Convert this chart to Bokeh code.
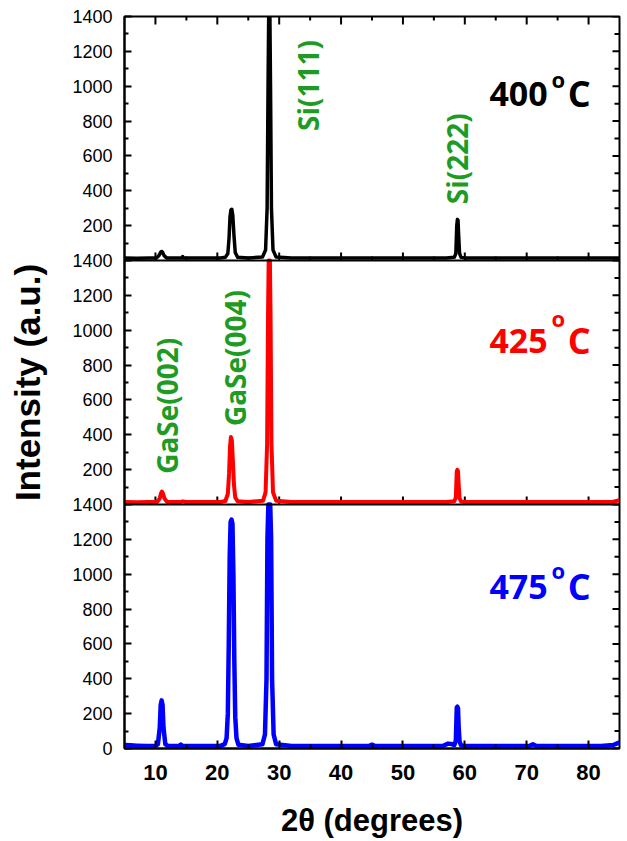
import numpy as np
from bokeh.plotting import figure
from bokeh.models import Range1d, LinearAxis, FixedTicker, Span, Label
from bokeh.embed import file_html
from bokeh.resources import INLINE

# ---------------- data ----------------
panel_max = 1400
series_names = ["475", "425", "400"]          # bottom -> top
series_colors = ["#0000ff", "#ff0000", "#000000"]
series_widths = [4.5, 4.0, 3.5]

pts_400 = [(5, 14), (7, 13), (9, 14), (10.2, 15), (10.6, 30), (10.85, 48), (11.0, 52), (11.15, 48),
           (11.4, 28), (11.8, 15), (13.5, 14), (14.3, 15), (14.4, 22), (14.5, 15), (15.5, 14), (18, 14),
           (20.5, 15), (21.3, 18), (21.7, 40), (21.9, 130), (22.05, 250), (22.2, 290), (22.35, 294),
           (22.5, 260), (22.7, 140), (22.9, 45), (23.3, 18), (25, 15), (27.3, 20), (27.8, 60),
           (28.05, 300), (28.2, 1000), (28.3, 1600), (28.4, 1800), (28.5, 1600), (28.6, 1000),
           (28.75, 300), (29.0, 60), (29.5, 20), (32, 15), (36, 14), (40, 15), (45, 14), (50, 14),
           (54, 14), (57, 15), (58.3, 18), (58.55, 40), (58.7, 200), (58.8, 236), (58.9, 232),
           (59.0, 150), (59.15, 40), (59.4, 18), (60, 15), (64, 14), (68, 14), (72, 15), (76, 14),
           (80, 14), (85, 15)]

pts_425 = [(5, 14), (7, 13), (9, 14), (10.3, 15), (10.7, 35), (10.9, 65), (11.05, 74), (11.2, 65),
           (11.45, 35), (11.9, 15), (14, 14), (14.4, 18), (15, 14), (18, 14), (20.5, 15), (21.3, 20),
           (21.7, 60), (21.9, 180), (22.05, 330), (22.2, 387), (22.35, 370), (22.5, 260), (22.7, 110),
           (22.9, 40), (23.3, 18), (25, 15), (27.4, 22), (27.8, 70), (28.05, 350), (28.2, 1100),
           (28.3, 1700), (28.4, 2000), (28.5, 1700), (28.6, 1100), (28.75, 350), (29.0, 70),
           (29.5, 22), (32, 15), (36, 14), (40, 15), (45, 15), (50, 14), (54, 14), (57, 15),
           (58.3, 18), (58.55, 40), (58.7, 190), (58.8, 199), (58.9, 190), (59.0, 120), (59.15, 35),
           (59.4, 17), (60, 15), (64, 14), (68, 15), (72, 14), (76, 15), (80, 14), (84, 16), (85, 25)]

pts_475 = [(5, 20), (6, 18), (7, 16), (8.5, 14), (10, 14), (10.4, 25), (10.7, 120), (10.85, 250),
           (11.0, 276), (11.15, 250), (11.3, 120), (11.6, 25), (12, 14), (13.8, 14), (14.1, 22),
           (14.4, 14), (16, 14), (18, 14), (20.5, 15), (21.2, 25), (21.5, 60), (21.7, 200),
           (21.85, 600), (22.0, 1100), (22.15, 1300), (22.3, 1313), (22.45, 1290), (22.6, 1000),
           (22.75, 500), (22.9, 180), (23.1, 60), (23.4, 22), (25, 15), (27.3, 25), (27.7, 80),
           (27.95, 400), (28.1, 1200), (28.25, 2200), (28.4, 2600), (28.55, 2200), (28.7, 1200),
           (28.85, 400), (29.1, 80), (29.5, 25), (32, 15), (36, 14), (40, 14), (44.5, 14), (45, 22),
           (45.5, 14), (50, 14), (54, 14), (56.5, 16), (57.3, 28), (57.8, 26), (58.3, 20),
           (58.55, 45), (58.7, 236), (58.8, 240), (58.9, 230), (59.0, 130), (59.15, 40), (59.4, 18),
           (60, 15), (64, 14), (68, 14), (70.5, 16), (71, 24), (71.5, 16), (74, 14), (78, 14),
           (82, 15), (84, 20), (85, 35)]

series_pts = [pts_475, pts_425, pts_400]

x_major_ticks = [10, 20, 30, 40, 50, 60, 70, 80]
x_minor_ticks = [15, 25, 35, 45, 55, 65, 75]
y_panel_ticks = [0, 200, 400, 600, 800, 1000, 1200, 1400]
y_panel_minor = [100, 300, 500, 700, 900, 1100, 1300]

temp_labels = ["475", "425", "400"]
peak_labels = [  # (panel index, x, y, text)
    (2, 34.6, 743, "Si(111)"),
    (2, 58.8, 323, "Si(222)"),
    (1, 11.8, 176, "GaSe(002)"),
    (1, 22.8, 450, "GaSe(004)"),
]
temp_label_y = [928, 939, 956]       # baseline of the temperature labels in each panel
temp_sup_y = [1025, 1070, 1043]

# ---------------- figure ----------------
FW, FH = 495, 732
XMIN, XMAX = 5, 85
YMAX = 3 * panel_max
p = figure(frame_width=FW, frame_height=FH,
           x_range=Range1d(XMIN, XMAX), y_range=Range1d(0, YMAX),
           output_backend="svg", toolbar_location=None,
           x_axis_location=None, y_axis_location=None,
           min_border_left=124, min_border_right=4, min_border_top=16, min_border_bottom=92)
p.grid.visible = False
p.outline_line_color = "black"
p.outline_line_width = 2
p.background_fill_color = "white"
p.border_fill_color = "white"

# global y ticks with per-panel labels
y_ticks, y_minor, overrides = [], [], {}
for k in range(3):
    off = k * panel_max
    for t in y_panel_ticks:
        if k > 0 and t == 0:
            continue
        y_ticks.append(off + t)
        overrides[off + t] = str(t)
    y_minor += [off + t for t in y_panel_minor]

def style_axis(ax):
    ax.axis_line_color = "black"
    ax.axis_line_width = 2
    ax.major_tick_line_color = "black"
    ax.minor_tick_line_color = "black"
    ax.major_tick_line_width = 2
    ax.minor_tick_line_width = 2
    ax.major_tick_out = 0
    ax.minor_tick_out = 0

yl = LinearAxis(ticker=FixedTicker(ticks=y_ticks, minor_ticks=y_minor))
style_axis(yl)
yl.major_tick_in = 7
yl.minor_tick_in = 4
yl.major_label_overrides = overrides
yl.major_label_text_font = "Liberation Sans"
yl.major_label_text_font_size = "18px"
yl.major_label_text_color = "black"
yl.major_label_standoff = 12
yl.axis_label = "Intensity (a.u.)"
yl.axis_label_text_font = "Liberation Sans"
yl.axis_label_text_font_style = "bold"
yl.axis_label_text_font_size = "35px"
yl.axis_label_text_color = "black"
yl.axis_label_standoff = 22
p.add_layout(yl, "left")

xb = LinearAxis(ticker=FixedTicker(ticks=x_major_ticks, minor_ticks=x_minor_ticks))
style_axis(xb)
xb.major_tick_in = 8
xb.minor_tick_in = 4
xb.major_label_text_font = "Liberation Sans"
xb.major_label_text_font_style = "bold"
xb.major_label_text_font_size = "22px"
xb.major_label_text_color = "black"
xb.major_label_standoff = 16
xb.axis_label = "2\u03b8 (degrees)"
xb.axis_label_text_font = "Liberation Sans"
xb.axis_label_text_font_style = "bold"
xb.axis_label_text_font_size = "31px"
xb.axis_label_text_color = "black"
xb.axis_label_standoff = 20
p.add_layout(xb, "below")

# inward ticks on the top edge, the panel separators and the right edge
px_x = (XMAX - XMIN) / FW
px_y = YMAX / FH
for b, sgn in [(YMAX, -1), (panel_max, 1), (2 * panel_max, 1)]:
    p.segment(x0=x_major_ticks, y0=[b] * len(x_major_ticks), x1=x_major_ticks,
              y1=[b + sgn * 8 * px_y] * len(x_major_ticks), line_color="black", line_width=2)
    p.segment(x0=x_minor_ticks, y0=[b] * len(x_minor_ticks), x1=x_minor_ticks,
              y1=[b + sgn * 4 * px_y] * len(x_minor_ticks), line_color="black", line_width=2)
for k in (1, 2):
    p.add_layout(Span(location=k * panel_max, dimension="width", line_color="black", line_width=2))
p.segment(x0=[XMAX] * len(y_ticks), y0=y_ticks, x1=[XMAX - 7 * px_x] * len(y_ticks), y1=y_ticks,
          line_color="black", line_width=2)
p.segment(x0=[XMAX] * len(y_minor), y0=y_minor, x1=[XMAX - 5 * px_x] * len(y_minor), y1=y_minor,
          line_color="black", line_width=2)

# curves
for k, (pts, col, lw) in enumerate(zip(series_pts, series_colors, series_widths)):
    xs = np.array([q[0] for q in pts], dtype=float)
    ys = np.minimum(np.array([q[1] for q in pts], dtype=float), panel_max) + k * panel_max
    p.line(xs, ys, line_color=col, line_width=lw, line_join="round")

# temperature labels
for k, (t, col) in enumerate(zip(temp_labels, series_colors)):
    off = k * panel_max
    p.add_layout(Label(x=73.4, y=off + temp_label_y[k], text=t, text_align="right",
                       text_baseline="alphabetic", text_font="Open Sans", text_font_style="bold",
                       text_font_size="34px", text_color=col))
    p.add_layout(Label(x=75.1, y=off + temp_sup_y[k], text="o", text_align="center",
                       text_baseline="alphabetic", text_font="Open Sans", text_font_style="bold",
                       text_font_size="22px", text_color=col))
    p.add_layout(Label(x=78.5, y=off + temp_label_y[k], text="C", text_align="center",
                       text_baseline="alphabetic", text_font="Open Sans", text_font_style="bold",
                       text_font_size="36px", text_color=col))

# peak labels
for k, x, y, txt in peak_labels:
    p.add_layout(Label(x=x, y=k * panel_max + y, text=txt, angle=np.pi / 2, angle_units="rad",
                       text_align="left", text_baseline="middle", text_font="Open Sans",
                       text_font_style="bold", text_font_size="28px", text_color="#1e9b22"))

open("out.html", "w").write(file_html(p, INLINE))
